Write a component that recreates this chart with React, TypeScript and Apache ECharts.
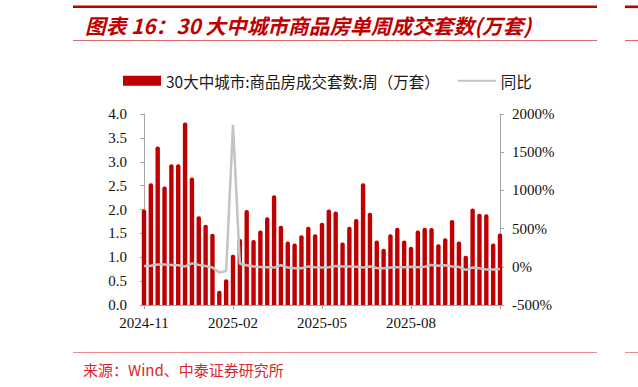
import React, { useEffect, useRef } from "react";
import * as echarts from "echarts";

const weeks: string[] = [
  "2024-11-03", "2024-11-10", "2024-11-17", "2024-11-24", "2024-12-01", "2024-12-08",
  "2024-12-15", "2024-12-22", "2024-12-29", "2025-01-05", "2025-01-12", "2025-01-19",
  "2025-01-26", "2025-02-02", "2025-02-09", "2025-02-16", "2025-02-23", "2025-03-02",
  "2025-03-09", "2025-03-16", "2025-03-23", "2025-03-30", "2025-04-06", "2025-04-13",
  "2025-04-20", "2025-04-27", "2025-05-04", "2025-05-11", "2025-05-18", "2025-05-25",
  "2025-06-01", "2025-06-08", "2025-06-15", "2025-06-22", "2025-06-29", "2025-07-06",
  "2025-07-13", "2025-07-20", "2025-07-27", "2025-08-03", "2025-08-10", "2025-08-17",
  "2025-08-24", "2025-08-31", "2025-09-07", "2025-09-14", "2025-09-21", "2025-09-28",
  "2025-10-05", "2025-10-12", "2025-10-19", "2025-10-26", "2025-11-02",
];

const sales: number[] = [
  2.0, 2.55, 3.32, 2.48, 2.95, 2.95, 3.82, 2.67, 1.86, 1.68, 1.49, 0.3, 0.54,
  1.05, 1.38, 1.99, 1.36, 1.56, 1.84, 2.3, 1.66, 1.33, 1.29, 1.46, 1.64, 1.48,
  1.72, 2.0, 1.96, 1.31, 1.64, 1.8, 2.55, 1.93, 1.35, 1.18, 1.48, 1.62, 1.35,
  1.22, 1.56, 1.62, 1.61, 1.27, 1.4, 1.78, 1.33, 1.03, 2.02, 1.91, 1.9, 1.29, 1.5,
];

const yoy: number[] = [
  10, 15, 30, 30, 25, 20, 5, 45, 25, 10, -10, -75, -55,
  1860, 40, 20, 5, -2, -5, -10, 20, -10, -20, -20, 5, -5,
  -10, -5, 10, 5, 5, 0, -10, 5, -15, -20, -10, -5, -5,
  0, -5, 0, 25, 15, 20, 5, 0, -40, -10, -20, -35, -35, -30,
];

const leftTicks = { min: 0, max: 4, interval: 0.5 };
const rightTicks = { min: -500, max: 2000, interval: 500 };

const seriesNames = ["30大中城市:商品房成交套数:周（万套）", "同比"];
const titleText = "图表 16：30 大中城市商品房单周成交套数(万套)";
const sourceText = "来源：Wind、中泰证券研究所";

export default function App() {
  const ref = useRef<HTMLDivElement>(null);
  useEffect(() => {
    if (!ref.current) return;
    const chart = echarts.init(ref.current, undefined, { renderer: "svg" });
    const serif = "'Liberation Serif', 'Times New Roman', serif";
    const cjk = "'Noto Sans CJK SC', sans-serif";
    const axisGray = "#a6a6a6";
    chart.setOption({
      animation: false,
      backgroundColor: "#ffffff",
      grid: { left: 144, right: 138, top: 114, bottom: 82, containLabel: false },
      legend: {
        left: 118,
        top: 68,
        itemWidth: 38,
        itemHeight: 10,
        itemGap: 17,
        textStyle: { fontFamily: cjk, fontSize: 15.5, color: "#1a1a1a" },
        data: [
          { name: seriesNames[0], icon: "rect" },
          { name: seriesNames[1], itemStyle: { opacity: 0 } },
        ],
      },
      xAxis: {
        type: "category",
        data: weeks,
        boundaryGap: false,
        axisLine: { lineStyle: { color: axisGray, width: 1 } },
        axisTick: {
          show: true,
          length: 4,
          interval: (i: number) => i % 13 === 0,
          lineStyle: { color: axisGray },
        },
        axisLabel: {
          interval: (i: number) => i % 13 === 0 && i < 52,
          formatter: (v: string) => v.slice(0, 7),
          fontFamily: serif,
          fontSize: 15,
          color: "#111",
          margin: 10,
        },
        splitLine: { show: false },
      },
      yAxis: [
        {
          type: "value",
          min: leftTicks.min,
          max: leftTicks.max,
          interval: leftTicks.interval,
          axisLine: { show: true, lineStyle: { color: axisGray } },
          axisTick: { show: true, length: 4, lineStyle: { color: axisGray } },
          axisLabel: {
            formatter: (v: number) => v.toFixed(1),
            fontFamily: serif,
            fontSize: 15,
            color: "#111",
            margin: 17,
          },
          splitLine: { show: false },
        },
        {
          type: "value",
          min: rightTicks.min,
          max: rightTicks.max,
          interval: rightTicks.interval,
          position: "right",
          axisLine: { show: true, lineStyle: { color: axisGray } },
          axisTick: { show: true, length: 4, lineStyle: { color: axisGray } },
          axisLabel: {
            formatter: (v: number) => `${v}%`,
            fontFamily: serif,
            fontSize: 15,
            color: "#111",
            margin: 12,
          },
          splitLine: { show: false },
        },
      ],
      series: [
        {
          name: seriesNames[0],
          type: "bar",
          data: sales,
          yAxisIndex: 0,
          barWidth: 4.4,
          clip: true,
          itemStyle: { color: "#c00000", borderRadius: [2, 2, 0, 0] },
        },
        {
          name: seriesNames[1],
          type: "line",
          data: yoy,
          yAxisIndex: 1,
          symbol: "none",
          lineStyle: { color: "#c4c4c4", width: 2.5 },
          itemStyle: { color: "#c4c4c4" },
          z: 5,
        },
      ],
      graphic: [
        { type: "rect", shape: { x: 73, y: 5.5, width: 524, height: 2.6 }, style: { fill: "#c00000" } },
        { type: "rect", shape: { x: 625, y: 5.5, width: 13, height: 2.6 }, style: { fill: "#c00000" } },
        {
          type: "text",
          x: 85,
          y: 25,
          style: {
            text: titleText,
            fill: "#c00000",
            font: "italic bold 20.7px 'Noto Sans CJK SC', sans-serif",
            verticalAlign: "middle",
            align: "left",
          },
        },
        { type: "line", shape: { x1: 73, y1: 40.5, x2: 597, y2: 40.5 }, style: { stroke: "#e06a6a", lineWidth: 1 } },
        { type: "line", shape: { x1: 625, y1: 40.5, x2: 638, y2: 40.5 }, style: { stroke: "#e06a6a", lineWidth: 1 } },
        { type: "line", shape: { x1: 73, y1: 352.5, x2: 597, y2: 352.5 }, style: { stroke: "#f08a8a", lineWidth: 1 } },
        { type: "line", shape: { x1: 625, y1: 352.5, x2: 638, y2: 352.5 }, style: { stroke: "#f08a8a", lineWidth: 1 } },
        {
          type: "text",
          x: 83,
          y: 369,
          style: {
            text: sourceText,
            fill: "#d8262b",
            font: "15px 'Noto Sans CJK SC', sans-serif",
            verticalAlign: "middle",
            align: "left",
          },
        },
      ],
    });
    return () => chart.dispose();
  }, []);
  return (
    <div
      ref={ref}
      style={{ position: "fixed", left: 0, top: 0, width: 638, height: 387, background: "#fff" }}
    />
  );
}
